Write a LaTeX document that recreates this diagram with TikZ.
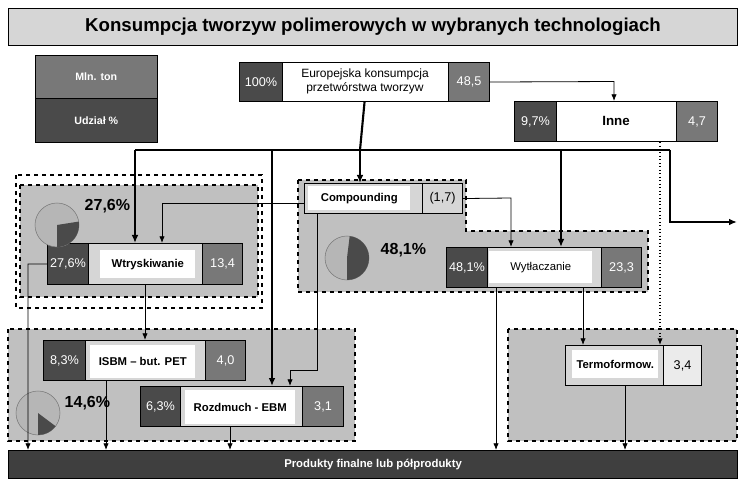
\documentclass[tikz,border=0pt]{standalone}
\usepackage{fontspec}
\setmainfont{Liberation Sans}
\usetikzlibrary{arrows.meta}
\definecolor{dk}{HTML}{4A4A4A}
\definecolor{md}{HTML}{787878}
\definecolor{grp}{HTML}{C0C0C0}
\definecolor{lt}{HTML}{D6D6D6}
\newcommand\mkbox[6]{\node[#1,anchor=north west,minimum width=#4*0.75pt,minimum height=#5*0.75pt,inner sep=0pt] (#2) at #3 {#6};}
\begin{document}
\begin{tikzpicture}[x=0.75pt,y=-0.75pt,
  cell/.style={draw=black,line width=0.8pt,font=\fontsize{9.5}{11}\selectfont,text=white},
  celld/.style={cell,fill=dk},
  cellm/.style={cell,fill=md},
  celll/.style={cell,fill=lt,text=black},
  mainc/.style={draw=black,line width=0.8pt,fill=lt},
  wbox/.style={fill=white,font=\bfseries\fontsize{8.5}{10}\selectfont},
  grpbox/.style={fill=grp,draw=black,dashed,line width=0.9pt},
  ar/.style={-{Latex[length=5pt,width=4pt]},line width=0.6pt},
  thk/.style={line width=1.6pt},
  pct/.style={font=\bfseries\fontsize{12}{14}\selectfont}]
\useasboundingbox (0,0) rectangle (745,484);
\fill[white] (0,0) rectangle (745,484);
% title
\mkbox{draw=black,line width=0.8pt,fill=lt,font=\bfseries\fontsize{14}{16}\selectfont}{title}{(8,8)}{729}{37}{Konsumpcja tworzyw polimerowych w wybranych technologiach}
% legend
\mkbox{draw=black,fill=md,text=white,font=\bfseries\fontsize{8}{10}\selectfont}{lg1}{(35,55)}{122}{43}{Mln. ton}
\mkbox{draw=black,fill=dk,text=white,font=\bfseries\fontsize{8}{10}\selectfont}{lg2}{(35,98)}{122}{44}{Udział \%}
% groups
\draw[grpbox,fill=none] (16,175) rectangle (262,308);
\draw[grpbox] (20,185) rectangle (258,297);
\draw[grpbox] (298,180) -- (466,180) -- (466,231) -- (648,231) -- (648,292) -- (298,292) -- cycle;
\draw[grpbox] (8,329) rectangle (355,441);
\draw[grpbox] (508,329) rectangle (737,441);
% Europejska
\mkbox{mainc,fill=white}{eu}{(239,62)}{250}{39}{}
\mkbox{celld}{eul}{(239,62)}{43}{39}{100\%}
\mkbox{cellm}{eur}{(448,62)}{41}{39}{48,5}
\node[font=\fontsize{9}{10.5}\selectfont,align=center] (eut) at (365,81) {Europejska konsumpcja\\przetwórstwa tworzyw};
% Inne
\mkbox{mainc,fill=white}{inne}{(514,101)}{203}{40}{}
\mkbox{celld}{innel}{(514,101)}{42}{40}{9,7\%}
\mkbox{cellm}{inner}{(676,101)}{41}{40}{4,7}
\node[wbox,font=\bfseries\fontsize{10}{12}\selectfont] (innet) at (616,121) {Inne};
% Compounding
\mkbox{mainc}{comp}{(304,183)}{158}{30}{}
\mkbox{celll}{compr}{(422,183)}{40}{30}{(1,7)}
\mkbox{wbox}{compt}{(308,186)}{102}{24}{Compounding}
% Wtryskiwanie
\mkbox{mainc}{wt}{(47,243)}{195}{41}{}
\mkbox{celld}{wtl}{(47,243)}{41}{41}{27,6\%}
\mkbox{cellm}{wtr}{(202,243)}{40}{41}{13,4}
\mkbox{wbox}{wtt}{(100,250)}{95}{28}{Wtryskiwanie}
% Wytlaczanie
\mkbox{mainc}{wy}{(446,247)}{195}{40}{}
\mkbox{celld}{wyl}{(446,247)}{41}{40}{48,1\%}
\mkbox{cellm}{wyr}{(601,247)}{40}{40}{23,3}
\mkbox{wbox,font=\fontsize{8.5}{10}\selectfont}{wyt}{(489,251)}{103}{32}{Wytłaczanie}
% ISBM
\mkbox{mainc}{isbm}{(43,340)}{202}{40}{}
\mkbox{celld}{isbml}{(43,340)}{42}{40}{8,3\%}
\mkbox{cellm}{isbmr}{(205,340)}{40}{40}{4,0}
\mkbox{wbox}{isbmt}{(90,345)}{105}{33}{ISBM – but. PET}
% Rozdmuch
\mkbox{mainc}{roz}{(140,386)}{203}{40}{}
\mkbox{celld}{rozl}{(140,386)}{40}{40}{6,3\%}
\mkbox{cellm}{rozr}{(302,386)}{41}{40}{3,1}
\mkbox{wbox}{rozt}{(185,390)}{110}{34}{Rozdmuch - EBM}
% Termoformow
\mkbox{mainc}{term}{(565,345)}{136}{40}{}
\mkbox{celll,fill=white!92!black}{termr}{(663,345)}{38}{40}{3,4}
\mkbox{wbox}{termt}{(572,350)}{86}{28}{Termoformow.}
% bottom bar
\mkbox{draw=black,line width=0.8pt,fill=dk!85!black,text=white,font=\bfseries\fontsize{8.5}{10}\selectfont}{bar}{(8,450)}{729}{28}{Produkty finalne lub półprodukty}
% pies
\filldraw[fill=lt!85!black,draw=md] (57,225) circle[radius=16.5pt];
\fill[dk] (57,225) -- ++(-90:16.5pt) arc[start angle=-90,end angle=9,radius=16.5pt] -- cycle;
\node[pct,anchor=west] (p1) at (80,206) {27,6\%};
\filldraw[fill=lt!85!black,draw=md] (347,258) circle[radius=16.5pt];
\fill[dk] (347,258) -- ++(-90:16.5pt) arc[start angle=-90,end angle=83,radius=16.5pt] -- cycle;
\node[pct,anchor=west] (p2) at (376,250) {48,1\%};
\filldraw[fill=lt!85!black,draw=md] (38,413) circle[radius=16.5pt];
\fill[dk] (38,413) -- ++(-90:16.5pt) arc[start angle=-90,end angle=-37,radius=16.5pt] -- cycle;
\node[pct,anchor=west] (p3) at (60,403) {14,6\%};
% connectors
\coordinate (hl) at (135,150);
\coordinate (hr) at (670,150);
\coordinate (outc) at (737,222);
\draw[thk] (eu.south) -- (360,150);
\draw[thk] (hl) -- (hr);
\draw[thk,-{Latex[length=6pt,width=5pt]}] (hl) -- (wt.north -| hl);
\draw[thk,-{Latex[length=6pt,width=5pt]}] (272,150) -- (272,386);
\draw[thk,-{Latex[length=6pt,width=5pt]}] (360,150) -- (comp.north -| 360,0);
\draw[thk,-{Latex[length=6pt,width=5pt]}] (561,150) -- (wy.north -| 561,0);
\draw[thk,-{Latex[length=6pt,width=5pt]}] (hr) -- (670,222) -- (outc);
\draw[ar] (eur.east) -- (614,81.5) -- (inne.north -| 614,0);
\draw[ar,dotted,line width=0.8pt] (inne.south -| 660,0) -- (term.north -| 660,0);
\draw[ar] (comp.west |- 0,203) -- (162,203) -- (wt.north -| 162,0);
\draw[ar] (compr.east) -- (511,198) -- (wy.north -| 511,0);
\draw[ar] (comp.south -| 317,0) -- (317,370) -- (290,370) -- (roz.north -| 290,0);
\draw[ar] (wtl.west) -- (28,264) -- (bar.north -| 28,0);
\draw[ar] (wt.south -| 145,0) -- (isbm.north -| 145,0);
\draw[ar] (isbm.south -| 106,0) -- (bar.north -| 106,0);
\draw[ar] (roz.south -| 230,0) -- (bar.north -| 230,0);
\draw[ar] (wy.south -| 496,0) -- (bar.north -| 496,0);
\draw[ar] (wy.south -| 583,0) -- (term.north -| 583,0);
\draw[ar] (term.south -| 625,0) -- (bar.north -| 625,0);
\end{tikzpicture}
\end{document}
